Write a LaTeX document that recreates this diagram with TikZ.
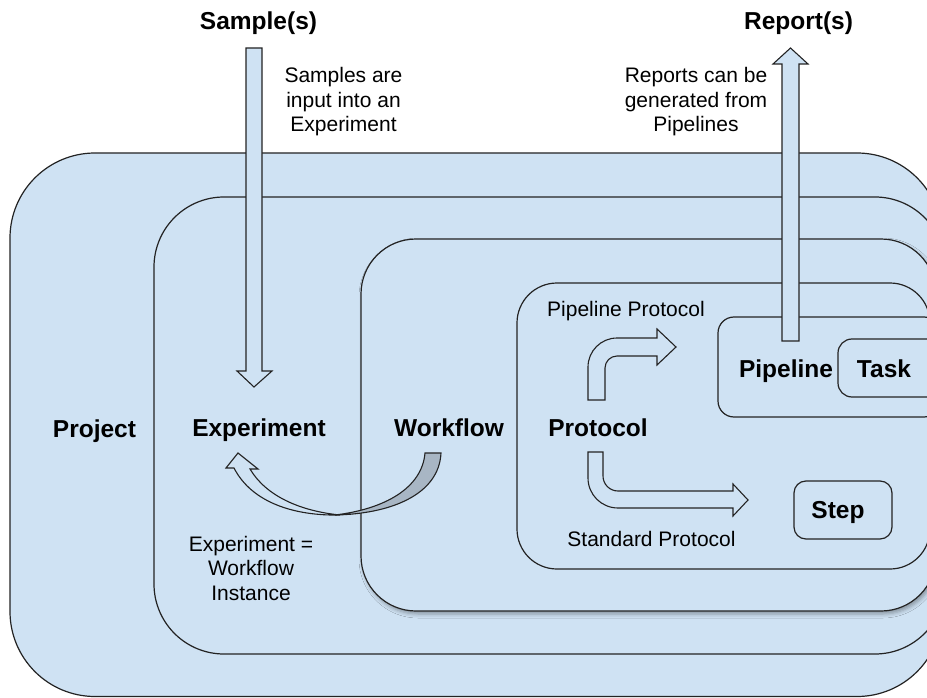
\documentclass[tikz,border=0pt]{standalone}
\usepackage{fontspec}
\setmainfont{Liberation Sans}
\usepackage{xcolor}
\usepackage{tikz}
\usetikzlibrary{shadows.blur}

\definecolor{boxblue}{RGB}{207,226,243}
\definecolor{twistgray}{RGB}{168,182,196}
\definecolor{edgegray}{RGB}{35,35,35}

\begin{document}
\begin{tikzpicture}[
      x=1pt, y=-1pt,
      box/.style={draw=edgegray, fill=boxblue, line width=1.2pt},
      blockarrow/.style={draw=edgegray, fill=boxblue, line width=1.1pt, line join=miter},
      lbl/.style={font=\fontsize{24.5}{28}\selectfont\bfseries, inner sep=0pt, anchor=base},
      note/.style={font=\fontsize{21}{24.5}\selectfont, align=center, inner sep=0pt}
    ]
    \useasboundingbox (0,0) rectangle (927,698);
    \clip (0,0) rectangle (927,698);

    % Contenitori annidati
    \draw[box, rounded corners=85pt] (10,153) rectangle (942,696.5);
    \draw[box, rounded corners=70pt] (154,197) rectangle (945,654);
    \draw[box, rounded corners=55pt,
          blur shadow={shadow xshift=2pt, shadow yshift=-3pt, shadow blur radius=4pt, shadow opacity=35}]
          (361,239) rectangle (936,611);
    \draw[box, rounded corners=40pt] (517,283) rectangle (930,569);
    \draw[box, rounded corners=16pt] (718,317) rectangle (940,417);
    \draw[box, rounded corners=14pt] (838,339) rectangle (965,397);
    \draw[box, rounded corners=12pt] (794,481) rectangle (892,539);

    % Frecce di ingresso e uscita
    \draw[blockarrow] (246,48) -- (246,371) -- (237,371) -- (254,387) -- (272,371) -- (262,371) -- (262,48) -- cycle;
    \draw[blockarrow] (782,341) -- (782,64) -- (773,64) -- (790.5,48) -- (808,64) -- (799,64) -- (799,341) -- cycle;

    % Frecce piegate del protocollo
    \draw[blockarrow] (588,400) -- (588,367) .. controls (588,351) and (601,338) .. (617,338)
          -- (657,338) -- (657,329) -- (676,347) -- (657,365) -- (657,356)
          -- (617,356) .. controls (610.4,356) and (605,361.4) .. (605,368) -- (605,400) -- cycle;
    \draw[blockarrow] (588,452) -- (588,478) .. controls (588,494.6) and (601.4,508) .. (618,508)
          -- (733,508) -- (733,516) -- (748,500) -- (733,484) -- (733,491)
          -- (618,491) .. controls (609.7,491) and (603,484.3) .. (603,476) -- (603,452) -- cycle;

    % Freccia curva Workflow -> Experiment
    \draw[blockarrow] (234,468) .. controls (252,503) and (295,516) .. (340,515)
          .. controls (300,511) and (266,496) .. (250,469) -- (258,469) -- (238,453) -- (226,468) -- cycle;
    \draw[blockarrow, fill=twistgray] (425,453) -- (441,453) .. controls (439,495) and (390,514) .. (335,515)
          .. controls (385,509) and (422,488) .. (425,453) -- cycle;

    % Etichette
    \node[lbl] (samples) at (258.5,30) {Sample(s)};
    \node[lbl] (reports) at (798.5,30) {Report(s)};
    \node[lbl] (project) at (94.5,437) {Project};
    \node[lbl] (experiment) at (259,436) {Experiment};
    \node[lbl] (workflow) at (449,436) {Workflow};
    \node[lbl] (protocol) at (598,436) {Protocol};
    \node[lbl] (pipeline) at (786,377) {Pipeline};
    \node[lbl] (task) at (884,377) {Task};
    \node[lbl] (step) at (838,518) {Step};

    % Note
    \node[note] (samplenote) at (343.5,102) {Samples are\\input into an\\Experiment};
    \node[note] (reportnote) at (696,102) {Reports can be\\generated from\\Pipelines};
    \node[note] (instancenote) at (251,568) {Experiment =\\Workflow\\Instance};
    \node[note, anchor=base] (pipeprot) at (626,316) {Pipeline Protocol};
    \node[note, anchor=base] (stdprot) at (651.5,546) {Standard Protocol};
  \end{tikzpicture}
\end{document}
